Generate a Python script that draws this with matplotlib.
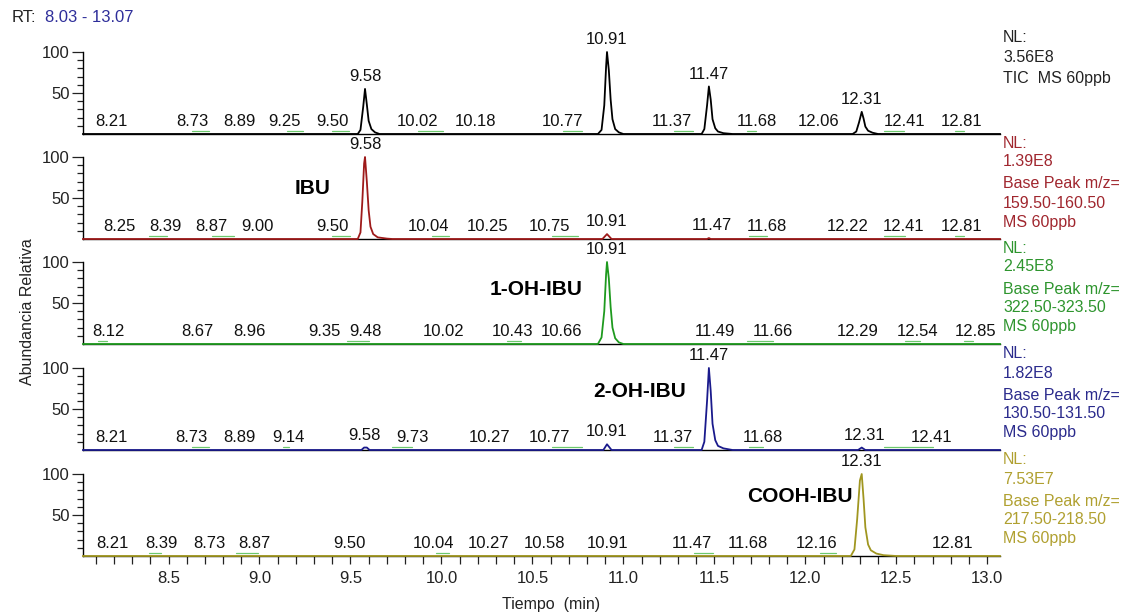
import numpy as np
import matplotlib
matplotlib.use("Agg")
import matplotlib.pyplot as plt
from matplotlib.ticker import FixedLocator, MultipleLocator, FormatStrFormatter

plt.rcParams['font.family'] = ['Liberation Sans', 'DejaVu Sans']

# ---------------- data ----------------
rt_range = (8.03, 13.07)

# TIC
tic_t = [8.03, 9.54, 9.555, 9.57, 9.58, 9.59, 9.60, 9.615, 9.635, 9.66,
         10.86, 10.88, 10.895, 10.905, 10.91, 10.92, 10.93, 10.94, 10.955, 10.975, 11.0,
         11.43, 11.445, 11.46, 11.47, 11.48, 11.49, 11.505, 11.52, 11.55, 11.6,
         12.26, 12.28, 12.295, 12.31, 12.32, 12.33, 12.345, 12.37, 12.40, 13.07]
tic_i = [0, 0, 5, 33, 55, 36, 16, 6, 2, 0,
         0, 5, 35, 82, 100, 78, 42, 18, 6, 2, 0,
         0, 6, 35, 58, 42, 18, 7, 3, 1, 0,
         0, 3, 14, 27, 19, 9, 4, 1.5, 0, 0]

# IBU, m/z 159.50-160.50
ibu_t = [8.03, 9.54, 9.555, 9.565, 9.575, 9.58, 9.59, 9.60, 9.61, 9.625, 9.65, 9.70, 9.73,
         10.885, 10.91, 10.935, 11.46, 11.47, 11.48, 13.07]
ibu_i = [0, 0, 8, 45, 92, 100, 70, 35, 15, 6, 2, 0.5, 0,
         0, 6, 0, 0, 1.2, 0, 0]

# 1-OH-IBU, m/z 322.50-323.50
oh1_t = [8.03, 10.86, 10.88, 10.895, 10.905, 10.91, 10.92, 10.93, 10.94, 10.955, 10.975, 11.0, 13.07]
oh1_i = [0, 0, 8, 40, 85, 100, 80, 45, 20, 7, 2, 0, 0]

# 2-OH-IBU, m/z 130.50-131.50
oh2_t = [8.03, 9.56, 9.575, 9.59, 9.605, 10.89, 10.91, 10.935,
         11.43, 11.445, 11.46, 11.47, 11.48, 11.49, 11.505, 11.52, 11.55, 11.60,
         12.29, 12.31, 12.33, 13.07]
oh2_i = [0, 0, 3, 3, 0, 0, 7, 0,
         0, 10, 60, 100, 72, 32, 12, 5, 2, 0,
         0, 3, 0, 0]

# COOH-IBU, m/z 217.50-218.50
cooh_t = [8.03, 12.25, 12.27, 12.285, 12.30, 12.31, 12.32, 12.33, 12.345, 12.36, 12.39, 12.43, 12.50, 13.07]
cooh_i = [0, 0, 8, 45, 92, 100, 70, 35, 14, 7, 3, 1, 0, 0]

# peak labels (retention times) per trace
tic_labels = [8.21, 8.73, 8.89, 9.25, 9.50, 9.58, 10.02, 10.18, 10.77, 10.91,
              11.37, 11.47, 11.68, 12.06, 12.31, 12.41, 12.81]
ibu_labels = [8.25, 8.39, 8.87, 9.00, 9.50, 9.58, 10.04, 10.25, 10.75, 10.91,
              11.47, 11.68, 12.22, 12.41, 12.81]
oh1_labels = [8.12, 8.67, 8.96, 9.35, 9.48, 10.02, 10.43, 10.66, 10.91,
              11.49, 11.66, 12.29, 12.54, 12.85]
oh2_labels = [8.21, 8.73, 8.89, 9.14, 9.58, 9.73, 10.27, 10.77, 10.91,
              11.37, 11.47, 11.68, 12.31, 12.41]
cooh_labels = [8.21, 8.39, 8.73, 8.87, 9.50, 10.04, 10.27, 10.58, 10.91,
               11.47, 11.68, 12.16, 12.31, 12.81]

# integration baseline segments (start, end)
tic_segs = [(8.63, 8.72), (9.15, 9.24), (9.40, 9.49), (9.87, 10.01), (10.67, 10.77),
            (11.28, 11.38), (11.68, 11.73), (12.43, 12.54), (12.82, 12.87)]
ibu_segs = [(8.39, 8.49), (8.74, 8.86), (9.40, 9.50), (9.95, 10.04), (10.61, 10.75),
            (11.69, 11.79), (12.43, 12.55), (12.82, 12.87)]
oh1_segs = [(8.11, 8.16), (9.48, 9.60), (10.36, 10.44), (11.68, 11.82),
            (12.55, 12.63), (12.87, 12.92)]
oh2_segs = [(8.63, 8.72), (9.13, 9.16), (9.73, 9.84), (10.61, 10.77), (11.28, 11.38),
            (11.69, 11.77), (12.43, 12.70)]
cooh_segs = [(8.39, 8.46), (8.87, 8.99), (9.97, 10.04), (11.39, 11.49), (12.08, 12.17)]

nl_values = ["3.56E8", "1.39E8", "2.45E8", "1.82E8", "7.53E7"]
mz_ranges = [None, "159.50-160.50", "322.50-323.50", "130.50-131.50", "217.50-218.50"]
compounds = [None, "IBU", "1-OH-IBU", "2-OH-IBU", "COOH-IBU"]

traces = [(tic_t, tic_i), (ibu_t, ibu_i), (oh1_t, oh1_i), (oh2_t, oh2_i), (cooh_t, cooh_i)]
labels = [tic_labels, ibu_labels, oh1_labels, oh2_labels, cooh_labels]
segs = [tic_segs, ibu_segs, oh1_segs, oh2_segs, cooh_segs]

# ---------------- layout / style ----------------
# horizontal nudges (pixels) of each peak label, as the instrument software places them
tic_dx = [-4, -18, 0, -20, -18, 0, -28, 1, -19, 0, -19, 0, 10, 2, 0, 25, 9]
ibu_dx = [-4, 17, -24, -2, -18, 0, -20, 1, -28, 0, 3, 20, 2, 24, 9]
oh1_dx = [9, -2, -3, 1, 19, -2, -7, 0, 0, 2, 29, 0, 14, 16]
oh2_dx = [-4, -19, 0, 3, -1, 20, -1, -32, 0, -18, 0, 16, 3, 52]
cooh_dx = [-3, 13, -1, 19, -1, -15, -2, -2, 1, -17, 1, -18, 0, 0]
label_dx = [tic_dx, ibu_dx, oh1_dx, oh2_dx, cooh_dx]

colors = ["#000000", "#9E1A1A", "#1E9A1E", "#1A1A8C", "#A09620"]
text_colors = ["#222222", "#A0262E", "#2E952E", "#2A2A8C", "#B0A030"]
seg_color = "#6CC86C"

W, H = 1121, 615
fig = plt.figure(figsize=(W / 100, H / 100), dpi=100)
fig.patch.set_facecolor("white")

x0_px, x1_px = 83, 1000
baselines = [134, 239, 344, 450, 556]
px_per_100 = 82
panel_h = 105
ytop = panel_h / px_per_100 * 100

compound_pos = [None, (9.29, 62), (10.52, 66), (11.09, 71), (11.97, 72)]

for k in range(5):
    yb = baselines[k]
    ax = fig.add_axes([x0_px / W, 1 - yb / H, (x1_px - x0_px) / W, panel_h / H])
    ax.set_xlim(*rt_range)
    ax.set_ylim(0, ytop)
    ax.patch.set_alpha(0)
    for s in ("top", "right"):
        ax.spines[s].set_visible(False)
    ax.spines["left"].set_bounds(0, 100)
    ax.spines["left"].set_linewidth(1.0)
    ax.spines["bottom"].set_linewidth(1.0)

    ax.yaxis.set_major_locator(FixedLocator([50, 100]))
    ax.yaxis.set_minor_locator(FixedLocator([10, 20, 30, 40, 60, 70, 80, 90]))
    ax.tick_params(axis="y", which="major", direction="out", length=8, width=0.9,
                   labelsize=12, pad=1.5, colors="#222222")
    ax.tick_params(axis="y", which="minor", direction="out", length=4.5, width=0.9,
                   colors="#222222")

    if k < 4:
        ax.tick_params(axis="x", which="both", bottom=False, labelbottom=False)
    else:
        ax.xaxis.set_major_locator(MultipleLocator(0.5))
        ax.xaxis.set_minor_locator(MultipleLocator(0.1))
        ax.xaxis.set_major_formatter(FormatStrFormatter("%.1f"))
        ax.tick_params(axis="x", which="both", direction="out", length=6, width=0.9,
                       labelsize=12, pad=4.5, colors="#222222")

    t, inten = traces[k]
    for (a, b) in segs[k]:
        ax.plot([a, b], [3.2, 3.2], color=seg_color, lw=0.9, zorder=2,
                solid_capstyle="round")
    ax.plot(t, inten, color=colors[k], lw=1.3, zorder=4, clip_on=False)

    for rt, dx in zip(labels[k], label_dx[k]):
        yv = float(np.interp(rt, t, inten))
        ax.annotate(f"{rt:.2f}", (rt, yv), xytext=(dx * 0.72, 3.5),
                    textcoords="offset points", ha="center", va="bottom",
                    fontsize=12, color="#111111", annotation_clip=False, zorder=5)

    if compounds[k]:
        cx, cy = compound_pos[k]
        ax.text(cx, cy, compounds[k], fontsize=15, fontweight="bold",
                ha="center", va="center", color="black")

    tc = text_colors[k]
    ny = yb - 96
    fig.text(1003 / W, 1 - ny / H, "NL:", fontsize=11.5, color=tc, va="center")
    fig.text(1003 / W, 1 - (ny + 19) / H, nl_values[k], fontsize=11.5, color=tc, va="center")
    if k == 0:
        fig.text(1003 / W, 1 - (ny + 41) / H, "TIC  MS 60ppb", fontsize=11.5, color=tc,
                 va="center")
    else:
        fig.text(1003 / W, 1 - (ny + 41) / H, "Base Peak m/z=", fontsize=11.5, color=tc,
                 va="center")
        fig.text(1003 / W, 1 - (ny + 60) / H, mz_ranges[k], fontsize=11.5, color=tc,
                 va="center")
        fig.text(1003 / W, 1 - (ny + 79) / H, "MS 60ppb", fontsize=11.5, color=tc,
                 va="center")

fig.text(12 / W, 1 - 17 / H, "RT:", fontsize=12, color="#222222", va="center")
fig.text(45 / W, 1 - 17 / H, "8.03 - 13.07", fontsize=12, color="#2E2E9A", va="center")
fig.text(28 / W, 1 - 312 / H, "Abundancia Relativa", fontsize=11.5, rotation=90,
         ha="center", va="center", color="#222222")
fig.text(551 / W, 1 - 605 / H, "Tiempo  (min)", fontsize=11.5, ha="center", va="center",
         color="#222222")

fig.savefig("out.png", dpi=100)
